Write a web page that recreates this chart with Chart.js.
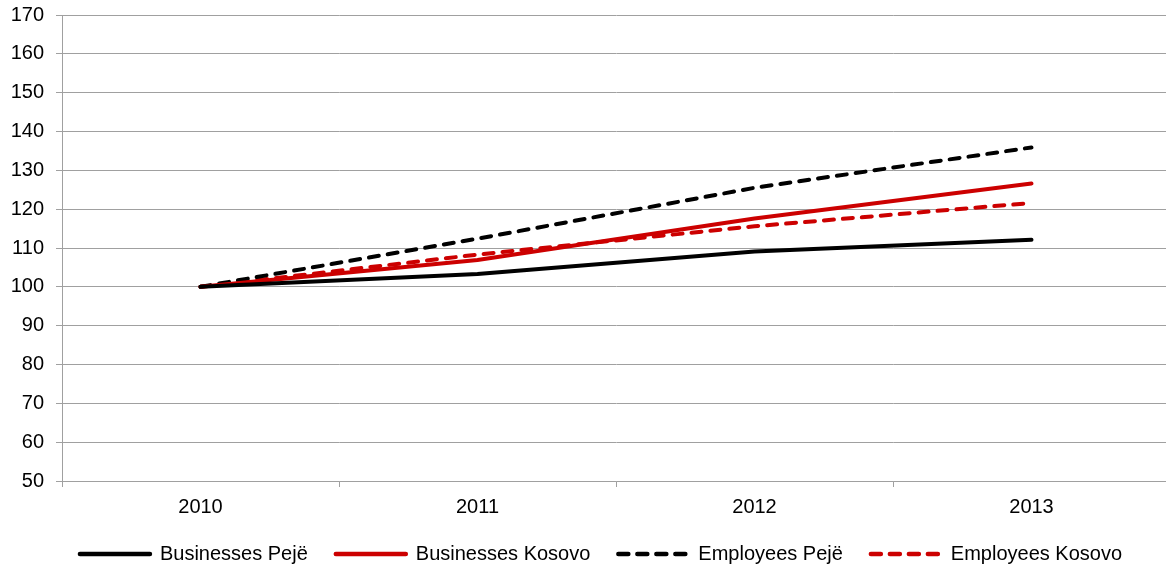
<!DOCTYPE html>
<html>
<head>
<meta charset="utf-8">
<script src="https://cdn.jsdelivr.net/npm/chart.js@4.4.1/dist/chart.umd.min.js"></script>
<style>
    html, body { margin: 0; padding: 0; background: #ffffff; overflow: hidden; }
    canvas { display: block; margin-top: -9px; }
</style>
</head>
<body>
<canvas id="trend" width="1170" height="583"></canvas>
<script>
const years = ['2010', '2011', '2012', '2013'];
const businessesPeje = [100, 103.3, 109.1, 112.1];
const businessesKosovo = [100, 106.9, 117.6, 126.6];
const employeesPeje = [100, 112.4, 125.5, 135.9];
const employeesKosovo = [100, 108.3, 115.6, 121.6];

const black = '#000000';
const red = '#cc0000';
const gridColor = '#a0a0a0';
const font = { family: 'Liberation Sans, Arial, sans-serif', size: 20 };

function series(label, data, color, dashed) {
    return {
        label: label,
        data: data,
        borderColor: color,
        backgroundColor: color,
        borderWidth: 4,
        borderDash: dashed ? [10, 9] : [],
        borderCapStyle: 'round',
        borderJoinStyle: 'round',
        pointRadius: 0,
        pointHoverRadius: 0,
        tension: 0,
        fill: false,
    };
}

// legend sits a little right of centre in the original
const shiftLegend = {
    id: 'shiftLegend',
    afterLayout: function (chart) {
        if (!chart.legend) return;
        chart.legend.left += 16;
        chart.legend.right += 16;
    }
};

new Chart(document.getElementById('trend').getContext('2d'), {
    type: 'line',
    data: {
        labels: years,
        datasets: [
            series('Businesses Pejë', businessesPeje, black, false),
            series('Businesses Kosovo', businessesKosovo, red, false),
            series('Employees Pejë', employeesPeje, black, true),
            series('Employees Kosovo', employeesKosovo, red, true),
        ]
    },
    plugins: [shiftLegend],
    options: {
        responsive: false,
        animation: false,
        layout: { padding: { left: 0, right: 0, top: 0, bottom: 0 } },
        plugins: {
            tooltip: { enabled: false },
            legend: {
                position: 'bottom',
                labels: {
                    usePointStyle: true,
                    pointStyleWidth: 70,
                    padding: 28,
                    color: '#000000',
                    font: font,
                    generateLabels: function (chart) {
                        return chart.data.datasets.map(function (ds, i) {
                            return {
                                text: ds.label,
                                fillStyle: ds.borderColor,
                                strokeStyle: ds.borderColor,
                                lineWidth: 4.5,
                                lineDash: ds.borderDash,
                                lineCap: 'round',
                                pointStyle: 'line',
                                hidden: false,
                                datasetIndex: i,
                            };
                        });
                    }
                }
            }
        },
        scales: {
            x: {
                offset: true,
                afterFit: function (scale) { scale.height -= 11; },
                grid: {
                    offset: true,
                    drawOnChartArea: false,
                    drawTicks: true,
                    tickLength: 6,
                    color: gridColor,
                },
                border: { color: gridColor, width: 1 },
                ticks: { color: '#000000', font: font, padding: 8, maxRotation: 0 }
            },
            y: {
                min: 50,
                max: 170,
                afterFit: function (scale) { scale.width = 62; },
                grid: {
                    color: gridColor,
                    tickLength: 6,
                },
                border: { color: gridColor, width: 1 },
                ticks: { stepSize: 10, color: '#000000', font: font, padding: 12 }
            }
        }
    }
});
</script>
</body>
</html>
